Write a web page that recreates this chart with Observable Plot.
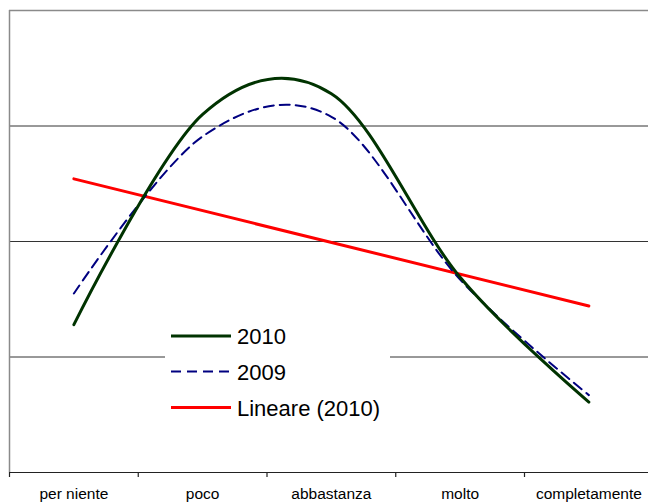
<!DOCTYPE html>
<html>
<head>
<meta charset="utf-8">
<script src="https://cdn.jsdelivr.net/npm/d3@7"></script>
<script src="https://cdn.jsdelivr.net/npm/@observablehq/plot@0.6"></script>
<style>
  html, body { margin: 0; padding: 0; background: #fff; overflow: hidden; }
  #chart svg { display: block; }
</style>
</head>
<body>
<div id="chart"></div>
<script>
// Categories (x axis)
const categories = ["per niente", "poco", "abbastanza", "molto", "completamente"];
// Series values (percent)
const values2010 = [12.8, 31.0, 32.8, 16.9, 6.1];
const values2009 = [15.5, 29.1, 30.8, 16.7, 6.7];
// Gridline values
const gridValues = [10, 20, 30];
// Legend labels
const legendLabels = ["2010", "2009", "Lineare (2010)"];

const d2010 = categories.map((c, i) => ({i: i + 1, cat: c, v: values2010[i]}));
const d2009 = categories.map((c, i) => ({i: i + 1, cat: c, v: values2009[i]}));
const boundaries = d3.range(0.5, categories.length + 1, 1);

const W = 660, H = 503;
const chart = Plot.plot({
  width: W,
  height: H,
  marginLeft: 9,
  marginRight: W - 652.75,
  marginTop: 10,
  marginBottom: 31,
  style: {maxWidth: "none", background: "#fff", overflow: "hidden"},
  x: {type: "linear", domain: [0.5, categories.length + 0.5], label: null},
  y: {type: "linear", domain: [0, 40], axis: null, label: null},
  marks: [
    Plot.ruleY(gridValues, {stroke: "#333", strokeWidth: 1}),
    Plot.ruleY([40], {stroke: "#8a8a8a", strokeWidth: 1.5}),
    Plot.ruleX([0.5], {stroke: "#8a8a8a", strokeWidth: 1.5}),
    Plot.axisX({ticks: boundaries, tickSize: 5, tickFormat: () => "", stroke: "#222", strokeWidth: 1.2, label: null}),
    Plot.axisX({ticks: d3.range(1, categories.length + 1), tickSize: 0, tickPadding: 15.5, label: null,
      tickFormat: d => categories[d - 1], fontSize: 15.5, fontFamily: "Liberation Sans, Arial, sans-serif", fill: "#000"}),
    Plot.ruleY([0], {stroke: "#222", strokeWidth: 1.2}),
    Plot.linearRegressionY(d2010, {x: "i", y: "v", ci: 0, stroke: "#ff0000", strokeWidth: 3}),
    Plot.line(d2009, {x: "i", y: "v", curve: "cardinal", stroke: "#000080", strokeWidth: 2, strokeDasharray: "10,6"}),
    Plot.line(d2010, {x: "i", y: "v", curve: "cardinal", stroke: "#003300", strokeWidth: 3})
  ]
});
document.getElementById("chart").appendChild(chart);

// Legend (drawn in the SVG over the plot, white box interrupts a gridline)
const svg = d3.select(chart);
const lg = svg.append("g").attr("text-anchor", "start");
lg.append("rect").attr("x", 165).attr("y", 318).attr("width", 225).attr("height", 106).attr("fill", "#fff");
const styles = [
  {stroke: "#003300", width: 3, dash: null},
  {stroke: "#000080", width: 2, dash: "10,6"},
  {stroke: "#ff0000", width: 3, dash: null}
];
const ys = [336, 371.5, 407.5];
legendLabels.forEach((lab, k) => {
  lg.append("line").attr("x1", 171).attr("x2", 231).attr("y1", ys[k]).attr("y2", ys[k])
    .attr("stroke", styles[k].stroke).attr("stroke-width", styles[k].width)
    .attr("stroke-dasharray", styles[k].dash);
  lg.append("text").attr("x", 237).attr("y", ys[k] + 8)
    .attr("text-anchor", "start")
    .attr("font-family", "Liberation Sans, Arial, sans-serif").attr("font-size", 22)
    .attr("fill", "#000").text(lab);
});
</script>
</body>
</html>
